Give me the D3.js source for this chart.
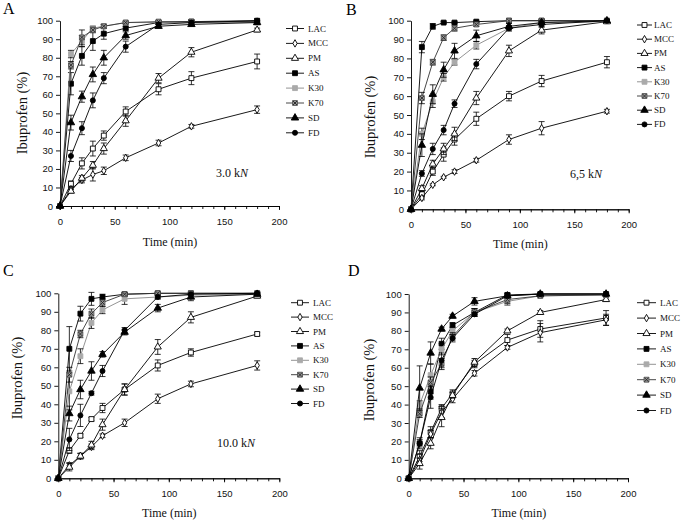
<!DOCTYPE html>
<html>
<head>
<meta charset="utf-8">
<script src="https://cdn.jsdelivr.net/npm/d3@7"></script>
<style>
  body { margin: 0; background: #fff; }
  svg { display: block; }
</style>
</head>
<body>
<div id="chart"></div>
<script>
'use strict';

// time points (min) and series
var times = [0, 10, 20, 30, 40, 60, 90, 120, 180];
var seriesNames = ['LAC', 'MCC', 'PM', 'AS', 'K30', 'K70', 'SD', 'FD'];
var xTicks = [0, 50, 100, 150, 200];
var xMinorTicks = [0, 10, 20, 30, 40, 50, 60, 70, 80, 90, 100, 110, 120, 130, 140, 150, 160, 170, 180, 190, 200];
var yTicks = [0, 10, 20, 30, 40, 50, 60, 70, 80, 90, 100];

// A: 3.0 kN
var valuesA = [
    [0, 12, 23, 31, 38, 51, 63, 69, 78],
    [0, 9, 14, 17, 19, 26, 34, 43, 52],
    [0, 8, 15, 22, 31, 46, 69, 83, 95],
    [0, 66, 81, 89, 93, 96, 99, 99.5, 100],
    [0, 82, 89, 96, 97, 99, 99, 99, 99],
    [0, 76, 91, 95, 97, 99, 99.5, 99.5, 99.5],
    [0, 45, 59, 71, 80, 92, 97, 98, 99],
    [0, 27, 42, 57, 69, 86, 98, 99, 100]
];
var errorsA = [
    [0, 1.5, 3, 4, 2.5, 2.5, 3, 3.5, 4],
    [0, 1, 1.5, 3.5, 2, 1.5, 1.5, 1, 2],
    [0, 1, 1.5, 2, 3, 3, 2.5, 2.5, 1],
    [0, 6, 5, 5, 3, 1, 1, 1, 1],
    [0, 2, 3, 1, 1, 0.5, 0.5, 0.5, 0.5],
    [0, 2, 4, 1.5, 1, 0.5, 0.5, 0.5, 0.5],
    [0, 4, 3, 4, 4, 2, 1, 1, 1],
    [0, 3, 3.5, 4, 3, 3, 1, 1, 0.5]
];

// B: 6,5 kN
var valuesB = [
    [0, 8, 20, 29, 37, 48, 60, 68, 78],
    [0, 6, 13, 17, 20, 26, 37, 43, 52],
    [0, 11, 24, 32, 40, 59, 84, 95, 99.5],
    [0, 86, 97, 99, 99, 99.5, 100, 100, 100],
    [0, 40, 57, 70, 78, 87, 96, 99, 99.5],
    [0, 59, 78, 91, 96, 98, 100, 100, 100],
    [0, 34, 61, 74, 84, 92, 97, 99, 100],
    [0, 19, 32, 42, 56, 77, 96, 98, 100]
];
var errorsB = [
    [0, 2, 2, 3.5, 3, 3.5, 2.5, 3, 3],
    [0, 1, 0.5, 0.5, 1, 1, 2.5, 3.5, 1],
    [0, 1.5, 2, 3, 3.5, 3.5, 3, 2, 0.5],
    [0, 3, 1.5, 0.5, 0.5, 0.5, 0.5, 0.5, 0.5],
    [0, 3, 3, 2, 1.5, 2, 1, 0.5, 0.5],
    [0, 3, 1.5, 1.5, 1.5, 1, 0.5, 0.5, 0.5],
    [0, 6, 5, 4, 4, 3, 1.5, 1, 0.5],
    [0, 1.5, 3, 2.5, 2, 2.5, 1.5, 1.5, 0.5]
];

// C: 10.0 kN
var valuesC = [
    [0, 15, 23, 32, 38, 48, 61, 68, 78],
    [0, 7, 12, 17, 23, 30, 43, 51, 61],
    [0, 6, 12, 18, 29, 48, 71, 87, 98.5],
    [0, 70, 89, 97, 98, 99.5, 100, 100, 100],
    [0, 47, 66, 84, 91, 97, 98, 99, 99.5],
    [0, 56, 78, 89, 95, 99.5, 100, 100, 100],
    [0, 35, 48, 58, 67, 79, 92, 98, 99.5],
    [0, 21, 34, 46, 58, 80, 98, 99.5, 100]
];
var errorsC = [
    [0, 1.5, 1, 1, 2.5, 3, 3, 2, 1],
    [0, 1.5, 1.5, 1.5, 1, 2, 2.5, 1.5, 2.5],
    [0, 2, 1.5, 2, 3, 3, 4, 3, 1],
    [0, 12, 4, 3.5, 1.5, 0.5, 0.5, 0.5, 0.5],
    [0, 10, 4, 3, 2, 3, 1, 0.5, 0.5],
    [0, 4, 2, 2.5, 2, 1, 0.5, 0.5, 0.5],
    [0, 4, 5, 5, 1.5, 1.5, 2, 2, 0.5],
    [0, 6, 6, 1, 3, 1.5, 1, 0.5, 0.5]
];

// D
var valuesD = [
    [0, 12, 25, 38, 46, 62, 75, 81, 87],
    [0, 10, 24, 36, 43, 57, 71, 79, 86],
    [0, 8, 19, 33, 45, 63, 80, 90, 97],
    [0, 19, 47, 73, 83, 90, 99.5, 100, 100],
    [0, 40, 56, 70, 80, 90, 96, 99, 99.5],
    [0, 35, 52, 62, 77, 90, 97, 99, 99.5],
    [0, 49, 68, 81, 88, 96, 99, 100, 100],
    [0, 19, 44, 64, 76, 89, 99, 100, 100]
];
var errorsD = [
    [0, 3, 3, 2, 2, 2, 3, 4.5, 4],
    [0, 3, 2, 3, 2, 1.5, 1, 5, 3],
    [0, 3, 3, 5, 1.5, 2, 1, 1, 1],
    [0, 2, 4, 3, 1.5, 2, 1, 0.5, 0.5],
    [0, 2, 6, 3, 2, 2, 2, 0.5, 0.5],
    [0, 2, 3, 3, 2, 2, 2, 0.5, 0.5],
    [0, 12, 6, 1, 1, 2, 1, 0.5, 0.5],
    [0, 3, 6, 4, 2, 1, 1, 0.5, 0.5]
];

var width = 684;
var height = 521;
var serif = "'Liberation Serif', 'Times New Roman', serif";
var sans = "'Liberation Sans', Arial, sans-serif";

// marker look per series
var markerStyle = {
    LAC: {type: d3.symbolSquare, size: 24, fill: '#fff', stroke: '#000', line: '#000'},
    MCC: {type: d3.symbolDiamond, size: 16, fill: '#fff', stroke: '#000', line: '#000'},
    PM:  {type: d3.symbolTriangle, size: 22, fill: '#fff', stroke: '#000', line: '#000'},
    AS:  {type: d3.symbolSquare, size: 24, fill: '#000', stroke: '#000', line: '#000'},
    K30: {type: d3.symbolSquare, size: 24, fill: '#aaa', stroke: '#aaa', line: '#888'},
    K70: {type: d3.symbolSquare, size: 24, fill: '#999', stroke: '#555', line: '#333', cross: true},
    SD:  {type: d3.symbolTriangle, size: 24, fill: '#000', stroke: '#000', line: '#000'},
    FD:  {type: d3.symbolCircle, size: 20, fill: '#000', stroke: '#000', line: '#000'}
};

var panels = [
    {letter: 'A', lx: 3, ly: 14, values: valuesA, errors: errorsA, x0: 60, x1: 279, yb: 206, yt: 20.7,
     note: '3.0 k', nx: 216, ny: 177, legX: 286, legW: 18, legT: 308, legY: 28.5, legDy: 14.9,
     ylx: 27, yly: 113, xly: 246},
    {letter: 'B', lx: 346, ly: 15, values: valuesB, errors: errorsB, x0: 411, x1: 628.7, yb: 209.3, yt: 20.7,
     note: '6,5 k', nx: 570, ny: 178, legX: 637, legW: 15, legT: 654, legY: 25, legDy: 14.2,
     ylx: 375, yly: 117, xly: 248},
    {letter: 'C', lx: 3, ly: 276, values: valuesC, errors: errorsC, x0: 58.3, x1: 279.3, yb: 478.3, yt: 293.3,
     note: '10.0 k', nx: 217, ny: 447, legX: 291, legW: 18, legT: 313, legY: 302.7, legDy: 14.4,
     ylx: 22, yly: 378, xly: 517},
    {letter: 'D', lx: 348, ly: 276, values: valuesD, errors: errorsD, x0: 408.7, x1: 628, yb: 478.3, yt: 294,
     note: '', nx: 0, ny: 0, legX: 637, legW: 19, legT: 660, legY: 302.7, legDy: 15.4,
     ylx: 374, yly: 380, xly: 517}
];

var svg = d3.select('#chart').append('svg')
    .attr('width', width)
    .attr('height', height)
    .style('background', '#fff');

var drawMarker = function(g, name, cx, cy) {
    var st = markerStyle[name];
    g.append('path')
        .attr('d', d3.symbol().type(st.type).size(st.size)())
        .attr('transform', 'translate(' + cx + ',' + cy + ')')
        .attr('fill', st.fill)
        .attr('stroke', st.stroke)
        .attr('stroke-width', 0.9);
    if (st.cross) {
        g.append('path')
            .attr('d', 'M-2,-2L2,2M-2,2L2,-2')
            .attr('transform', 'translate(' + cx + ',' + cy + ')')
            .attr('stroke', '#222')
            .attr('stroke-width', 0.9);
    }
};

var drawPanel = function(p) {
    var x = d3.scaleLinear().domain([0, 200]).range([p.x0, p.x1]);
    var y = d3.scaleLinear().domain([0, 100]).range([p.yb, p.yt]);
    var g = svg.append('g');

    // axes
    var yAxis = g.append('g')
        .attr('transform', 'translate(' + p.x0 + ',0)')
        .call(d3.axisLeft(y).tickValues(yTicks).tickSize(4).tickPadding(3).tickSizeOuter(0));
    var xMinor = g.append('g')
        .attr('transform', 'translate(0,' + p.yb + ')')
        .call(d3.axisBottom(x).tickValues(xMinorTicks).tickSize(3).tickFormat('').tickSizeOuter(0));
    var xAxis = g.append('g')
        .attr('transform', 'translate(0,' + p.yb + ')')
        .call(d3.axisBottom(x).tickValues(xTicks).tickSize(4).tickPadding(8).tickSizeOuter(0));

    [yAxis, xAxis, xMinor].forEach(function(a) {
        a.selectAll('text').style('font-family', sans).style('font-size', '9.5px').attr('fill', '#111');
        a.selectAll('line, path').attr('stroke', '#000').attr('stroke-width', 0.9);
    });

    // series
    var line = d3.line()
        .x(function(d) { return x(d[0]); })
        .y(function(d) { return y(d[1]); });

    seriesNames.forEach(function(name, i) {
        var pts = times.map(function(t, j) { return [t, p.values[i][j], p.errors[i][j]]; });
        var sg = g.append('g');
        sg.append('path')
            .datum(pts)
            .attr('d', line)
            .attr('fill', 'none')
            .attr('stroke', markerStyle[name].line)
            .attr('stroke-width', 0.9);

        pts.forEach(function(d) {
            if (d[2] > 0) {
                var px = x(d[0]);
                var ya = y(d[1] - d[2]);
                var yb = y(Math.min(d[1] + d[2], 102));
                sg.append('path')
                    .attr('d', 'M' + px + ',' + ya + 'V' + yb +
                        'M' + (px - 3) + ',' + ya + 'H' + (px + 3) +
                        'M' + (px - 3) + ',' + yb + 'H' + (px + 3))
                    .attr('stroke', '#000')
                    .attr('stroke-width', 0.8)
                    .attr('fill', 'none');
            }
        });

        pts.forEach(function(d) {
            drawMarker(sg, name, x(d[0]), y(d[1]));
        });
    });

    // legend
    seriesNames.forEach(function(name, i) {
        var ly = p.legY + i * p.legDy;
        var lg = g.append('g');
        lg.append('line')
            .attr('x1', p.legX).attr('x2', p.legX + p.legW)
            .attr('y1', ly).attr('y2', ly)
            .attr('stroke', markerStyle[name].line)
            .attr('stroke-width', 0.9);
        drawMarker(lg, name, p.legX + p.legW / 2, ly);
        lg.append('text')
            .attr('x', p.legT).attr('y', ly + 3)
            .style('font-family', serif).style('font-size', '9px')
            .attr('fill', '#111')
            .text(name);
    });

    // titles
    g.append('text')
        .attr('transform', 'translate(' + p.ylx + ',' + p.yly + ') rotate(-90)')
        .attr('text-anchor', 'middle')
        .style('font-family', serif).style('font-size', '14.5px')
        .attr('fill', '#111')
        .text('Ibuprofen (%)');

    g.append('text')
        .attr('x', (p.x0 + p.x1) / 2 + 0.5).attr('y', p.xly)
        .attr('text-anchor', 'middle')
        .style('font-family', serif).style('font-size', '12px')
        .attr('fill', '#111')
        .text('Time (min)');

    g.append('text')
        .attr('x', p.lx).attr('y', p.ly)
        .style('font-family', serif).style('font-size', '16px')
        .attr('fill', '#000')
        .text(p.letter);

    if (p.note) {
        var nt = g.append('text')
            .attr('x', p.nx).attr('y', p.ny)
            .style('font-family', serif).style('font-size', '12px')
            .attr('fill', '#111')
            .text(p.note);
        nt.append('tspan').style('font-style', 'italic').text('N');
    }
};

panels.forEach(drawPanel);
</script>
</body>
</html>
